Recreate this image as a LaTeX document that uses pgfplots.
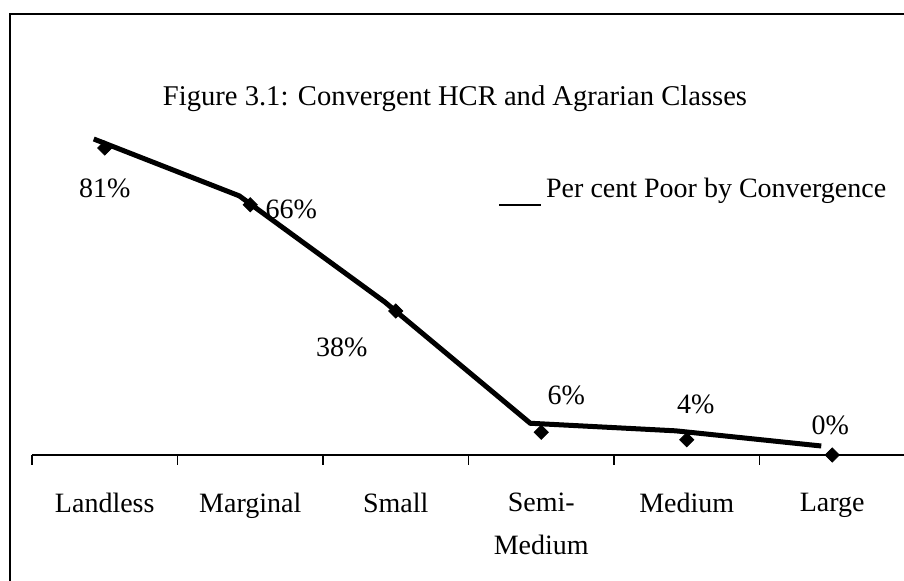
\documentclass[border=0pt]{standalone}
\usepackage{pgfplots}
\pgfplotsset{compat=1.18}
\usepackage{pgfplotstable}
\usepackage{fontspec}
\setmainfont{Liberation Serif}

% x = category index, y = per cent poor, dx/dy = label offset (pt)
\pgfplotstableread{
x y dx dy
0 81 0 -20
1 66 20.5 -2.5
2 38 -27 -18
3 6 12.5 18.5
4 4 4.5 17.5
5 0 -1 15
}\poordata

\begin{document}
\begin{tikzpicture}
\useasboundingbox (-16pt,-63pt) rectangle (436pt,227.5pt);
% frame of the scanned figure (only left and top edges visible)
\draw[line width=1pt] (-11pt,-63pt) -- (-11pt,220.5pt) -- (436pt,220.5pt);
\node[font=\fontsize{14.3}{17}\selectfont] at (211.5pt,178pt)
  {Figure 3.1: Convergent HCR and Agrarian Classes};

\begin{axis}[
    at={(0,0)}, anchor=south west,
    scale only axis,
    width=436.5pt, height=189.5pt,
    xmin=-0.5, xmax=5.5,
    ymin=0, ymax=100,
    axis x line=bottom,
    axis y line=none,
    x axis line style={-, line width=0.8pt},
    clip=false,
    /pgf/number format/assume math mode=true,
    xtick={0,1,2,3,4,5},
    xticklabels={Landless, Marginal, Small, {Semi-\\Medium}, Medium, Large},
    major tick length=0pt,
    minor xtick={-0.5,0.5,1.5,2.5,3.5,4.5,5.5},
    minor tick length=5pt,
    tick align=outside,
    minor tick style={line width=0.6pt, black},
    xticklabel style={font=\fontsize{14}{21.5}\selectfont, align=center,
        anchor=north, inner sep=0pt, yshift=-19pt},
    legend style={draw=none, fill=none, inner sep=0pt,
        at={(0.534,0.699)}, anchor=west,
        font=\fontsize{14}{17}\selectfont},
    legend image code/.code={\draw[line width=0.8pt] (0pt,-12.5pt) -- (21pt,-12.5pt);},
]
\addplot[black, line width=2.5pt, xshift=-5.5pt, yshift=4.5pt]
    table[x=x, y=y] {\poordata};
\addlegendentry{Per cent Poor by Convergence}
\addplot[only marks, black, mark=square*, mark size=2.5pt,
    mark options={rotate=45},
    visualization depends on={\thisrow{dx} \as \dx},
    visualization depends on={\thisrow{dy} \as \dy},
    nodes near coords={\pgfmathprintnumber{\pgfplotspointmeta}\%},
    nodes near coords style={font=\fontsize{14}{17}\selectfont, anchor=center,
        xshift=\dx pt, yshift=\dy pt, inner sep=0pt},
    forget plot]
    table[x=x, y=y] {\poordata};
\end{axis}
\end{tikzpicture}
\end{document}
